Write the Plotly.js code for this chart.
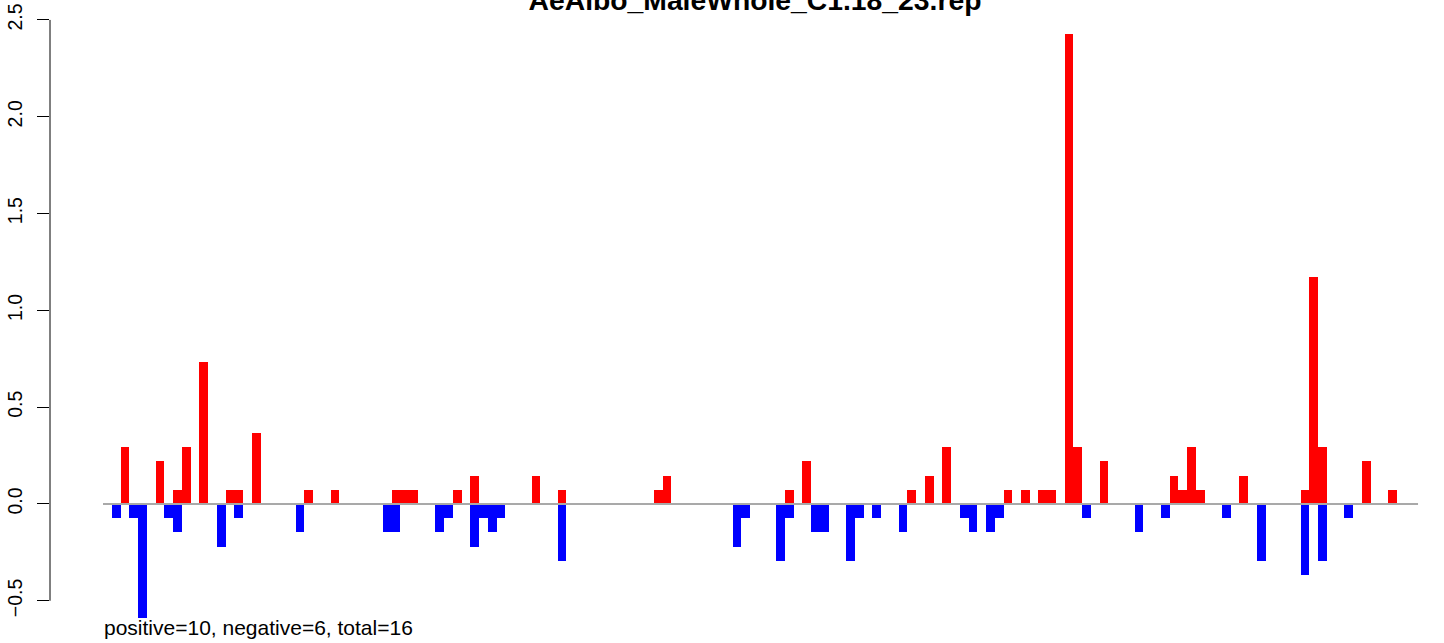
<!DOCTYPE html>
<html>
<head>
<meta charset="utf-8">
<script src="https://cdn.plot.ly/plotly-3.0.1.min.js"></script>
<style>html,body{margin:0;padding:0;background:#fff;}#chart{width:1444px;height:643px;}</style>
</head>
<body>
<div id="chart"></div>
<script>
// Bin indices and values
const posBins = [1,5,7,8,10,13,14,16,22,25,32,33,34,39,41,48,51,62,63,77,79,91,93,95,102,104,106,107,109,110,113,121,122,123,124,129,136,137,138,143,146];
const posVals = [0.293,0.22,0.073,0.293,0.733,0.073,0.073,0.367,0.073,0.073,0.073,0.073,0.073,0.073,0.147,0.147,0.073,0.073,0.147,0.073,0.22,0.073,0.147,0.293,0.073,0.073,0.073,0.073,2.425,0.293,0.22,0.147,0.073,0.293,0.073,0.147,0.073,1.173,0.293,0.22,0.073];
const negBins = [0,2,3,6,7,12,14,21,31,32,37,38,41,42,43,44,51,71,72,76,77,80,81,84,85,87,90,97,98,100,101,111,117,120,127,131,136,138,141];
const negVals = [-0.073,-0.073,-0.587,-0.073,-0.147,-0.22,-0.073,-0.147,-0.147,-0.147,-0.147,-0.073,-0.22,-0.073,-0.147,-0.073,-0.293,-0.22,-0.073,-0.293,-0.073,-0.147,-0.147,-0.293,-0.073,-0.073,-0.147,-0.073,-0.147,-0.147,-0.073,-0.073,-0.147,-0.073,-0.073,-0.293,-0.367,-0.293,-0.073];
const yTicks = [-0.5,0.0,0.5,1.0,1.5,2.0,2.5];
const yTickLabels = ["\u22120.5","0.0","0.5","1.0","1.5","2.0","2.5"];
const titleText = "AeAlbo_MaleWhole_C1.18_23.rep";
const noteText = "positive=10, negative=6, total=16";

const FONT = "Liberation Sans, Arial, Helvetica, sans-serif";

const traces = [
  {type:'bar', x:posBins, y:posVals, width:1, marker:{color:'#FF0000', line:{width:0}}, hoverinfo:'x+y', showlegend:false},
  {type:'bar', x:negBins, y:negVals, width:1, marker:{color:'#0000FF', line:{width:0}}, hoverinfo:'x+y', showlegend:false}
];

const layout = {
  width:1444, height:643,
  margin:{l:50, r:0, t:0, b:0, pad:0},
  paper_bgcolor:'#ffffff', plot_bgcolor:'#ffffff',
  barmode:'overlay', bargap:0,
  showlegend:false,
  title:{text:'<b>'+titleText+'</b>', x:755/1444, xanchor:'center', xref:'container', y:1.0, yref:'container', yanchor:'middle', font:{family:FONT, size:28.3, color:'#000'}},
  xaxis:{range:[-7.594,151.9], visible:false, fixedrange:true},
  yaxis:{range:[-0.718,2.603], tickmode:'array', tickvals:yTicks, ticktext:yTickLabels, tickangle:-90,
         ticks:'outside', ticklen:12, tickwidth:1, tickcolor:'#000', showline:false, showgrid:false, zeroline:false,
         ticklabelstandoff:7,
         tickfont:{family:FONT, size:19.5, color:'#000'}, fixedrange:true},
  shapes:[
    {type:'line', xref:'paper', yref:'y', x0:0, x1:0, y0:-0.5, y1:2.5, line:{color:'#000', width:1}},
    {type:'line', xref:'x', yref:'y', x0:-1.53, x1:148.93, y0:0, y1:0, line:{color:'#A9A9A9', width:2}, layer:'above'}
  ],
  annotations:[
    {text:noteText, xref:'paper', yref:'paper', x:(102-50)/1394, y:1-627/643, xanchor:'left', yanchor:'middle', showarrow:false, font:{family:FONT, size:21, color:'#000'}}
  ]
};

Plotly.newPlot('chart', traces, layout, {displayModeBar:false, staticPlot:true});
</script>
</body>
</html>
